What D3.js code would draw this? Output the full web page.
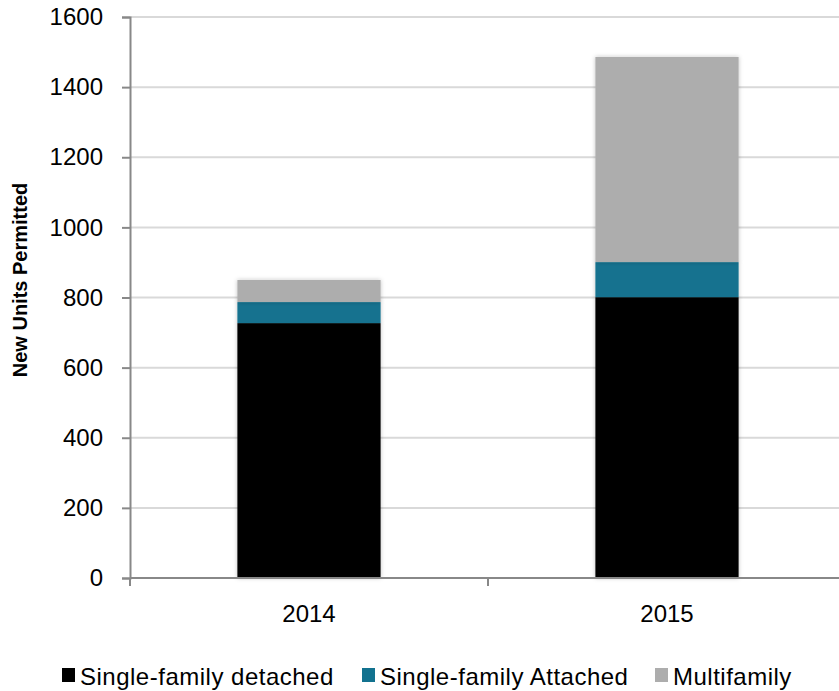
<!DOCTYPE html>
<html>
<head>
<meta charset="utf-8">
<script src="https://cdn.jsdelivr.net/npm/d3@7"></script>
<style>
  body { margin: 0; background: #fff; }
  text { font-family: "Liberation Sans", Arial, sans-serif; fill: #000; }
</style>
</head>
<body>
<svg id="chart" width="839" height="691"></svg>
<script>
var years = ["2014", "2015"];
var series = ["Single-family detached", "Single-family Attached", "Multifamily"];
var detached = [727, 801];
var attached = [60, 100];
var multifamily = [63, 585];
var yTicks = [0, 200, 400, 600, 800, 1000, 1200, 1400, 1600];
var colors = ["#000000", "#12728f", "#adadad"];

var svg = d3.select("#chart");
var plotLeft = 130, plotRight = 846, plotTop = 17, plotBottom = 578;

var x = d3.scaleBand().domain(years).range([plotLeft, plotRight]).paddingInner(0.6).paddingOuter(0.3);
var xOuter = d3.scaleBand().domain(years).range([plotLeft, plotRight]);
var y = d3.scaleLinear().domain([0, 1600]).range([plotBottom, plotTop]);

// gridlines
svg.append("g")
  .selectAll("line")
  .data(yTicks.slice(1))
  .enter().append("line")
  .attr("x1", plotLeft).attr("x2", plotRight)
  .attr("y1", function(d) { return y(d); })
  .attr("y2", function(d) { return y(d); })
  .attr("stroke", "#d9d9d9")
  .attr("stroke-width", 2);

// soft shadow round the bars
var defs = svg.append("defs");
var f = defs.append("filter").attr("id", "shadow").attr("x", "-10%").attr("y", "-10%").attr("width", "120%").attr("height", "120%");
f.append("feDropShadow").attr("dx", 0).attr("dy", 0).attr("stdDeviation", 2).attr("flood-color", "#000").attr("flood-opacity", 0.25);

var rows = years.map(function(yr, i) {
  return { year: yr, d: detached[i], a: attached[i], m: multifamily[i] };
});
var stacked = d3.stack().keys(["d", "a", "m"])(rows);

svg.append("g").selectAll("g")
  .data(stacked)
  .enter().append("g")
  .attr("fill", function(d, i) { return colors[i]; })
  .attr("filter", "url(#shadow)")
  .selectAll("rect")
  .data(function(d) { return d; })
  .enter().append("rect")
  .attr("x", function(d) { return x(d.data.year); })
  .attr("width", x.bandwidth())
  .attr("y", function(d) { return y(d[1]); })
  .attr("height", function(d) { return y(d[0]) - y(d[1]); });

// y axis
var yAxis = svg.append("g")
  .attr("transform", "translate(" + plotLeft + ",0)")
  .call(d3.axisLeft(y).tickValues(yTicks).tickFormat(d3.format("d")).tickSize(8).tickPadding(19));
yAxis.select(".domain").attr("stroke", "#888").attr("stroke-width", 2);
yAxis.selectAll(".tick line").attr("stroke", "#888").attr("stroke-width", 2);
yAxis.selectAll("text")
  .style("font-size", "24px")
  .style("font-family", "'Liberation Sans', Arial, sans-serif")
  .attr("fill", "#000");

// x axis
svg.append("line")
  .attr("x1", plotLeft).attr("x2", plotRight)
  .attr("y1", plotBottom).attr("y2", plotBottom)
  .attr("stroke", "#888").attr("stroke-width", 2);
svg.append("g").selectAll("line")
  .data(years.concat(["end"]))
  .enter().append("line")
  .attr("x1", function(d, i) { return plotLeft + i * xOuter.bandwidth(); })
  .attr("x2", function(d, i) { return plotLeft + i * xOuter.bandwidth(); })
  .attr("y1", plotBottom).attr("y2", plotBottom + 8)
  .attr("stroke", "#888").attr("stroke-width", 2);

svg.append("g").selectAll("text")
  .data(years)
  .enter().append("text")
  .attr("x", function(d) { return x(d) + x.bandwidth() / 2; })
  .attr("y", 622)
  .attr("text-anchor", "middle")
  .style("font-size", "24px")
  .text(function(d) { return d; });

// y title
svg.append("text")
  .attr("transform", "translate(27," + 280 + ") rotate(-90)")
  .attr("text-anchor", "middle")
  .style("font-size", "20px")
  .style("font-weight", "bold")
  .text("New Units Permitted");

// legend
var legendX = [62, 362, 655];
var lg = svg.append("g").selectAll("g")
  .data(series)
  .enter().append("g")
  .attr("transform", function(d, i) { return "translate(" + legendX[i] + ",667)"; });
lg.append("rect")
  .attr("width", 13).attr("height", 14)
  .attr("y", 1)
  .attr("fill", function(d, i) { return colors[i]; });
lg.append("text")
  .attr("x", 18).attr("y", 18)
  .style("font-size", "24px")
  .style("letter-spacing", "0.5px")
  .text(function(d) { return d; });
</script>
</body>
</html>
